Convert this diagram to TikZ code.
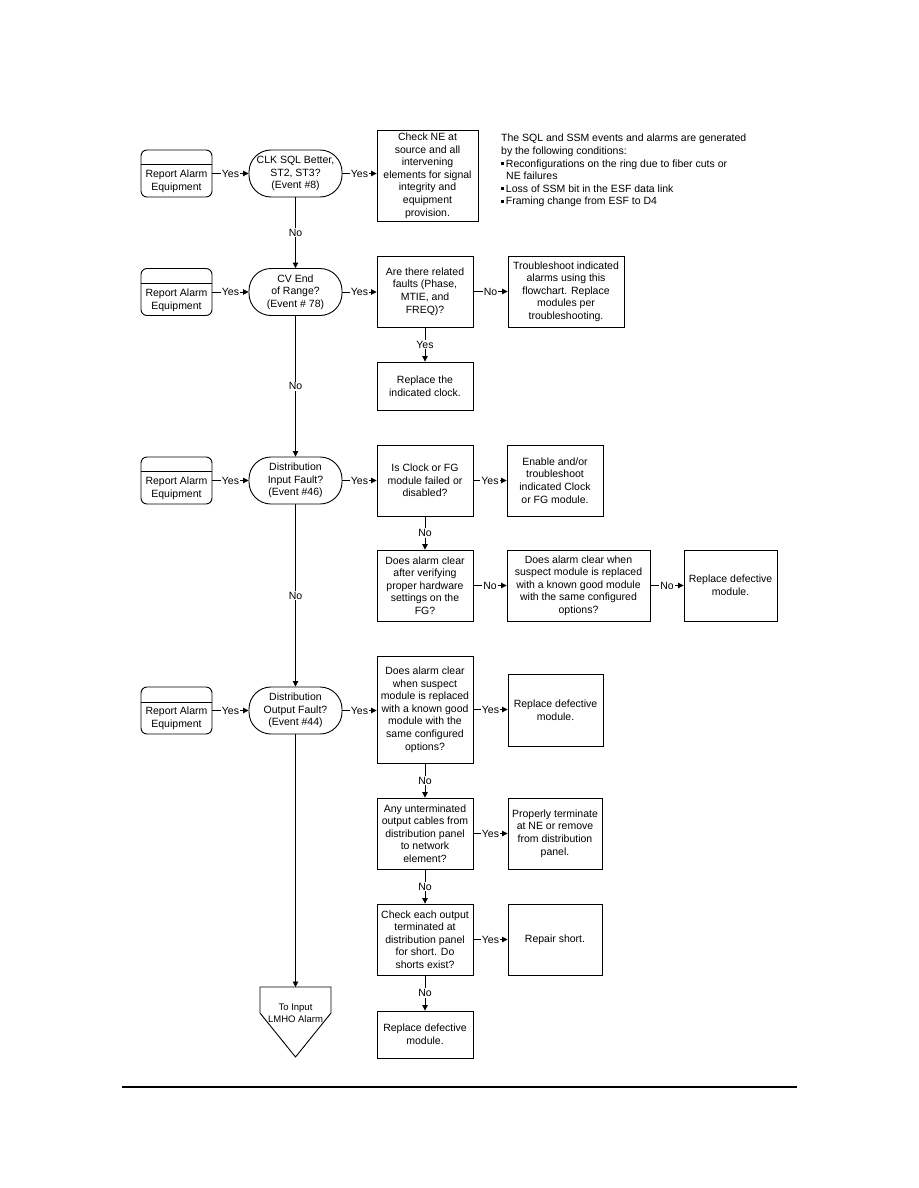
\documentclass[tikz,border=0pt]{standalone}
\usepackage{fontspec}
\setmainfont{Liberation Sans}
\usetikzlibrary{arrows.meta,calc}
\newcommand{\bul}{\raisebox{2pt}{\rule{3pt}{3pt}}\,}
\begin{document}
\begin{tikzpicture}[x=1pt,y=-1pt,
  every node/.style={font=\fontsize{10.5}{12.6}\selectfont, align=center, inner sep=1pt},
  box/.style={draw, line width=0.9pt, inner sep=0pt},
  rep/.style={draw, line width=0.9pt, rounded corners=6pt, minimum width=71pt, minimum height=47pt, inner sep=0pt},
  dec/.style={draw, line width=0.9pt, rounded corners=22pt, minimum width=93pt, minimum height=47pt, inner sep=0pt},
  arr/.style={line width=0.9pt, -{Triangle[length=5.5pt,width=5.5pt]}},
  lbl/.style={fill=white, inner sep=1pt}]
\fill[white] (0,0) rectangle (918,1188);
\useasboundingbox (0,0) rectangle (918,1188);

% ---------- Row 1 ----------
\node[rep] (rep1) at (176.5,173.5) {};
\draw[line width=0.9pt] ($(rep1.north west)+(0,14.5)$) -- ($(rep1.north east)+(0,14.5)$);
\node (rep1t) at ($(rep1.center)+(0,8)$) {Report Alarm\\Equipment};
\node[dec] (d1) at (295.5,173.5) {CLK SQL Better,\\ST2, ST3?\\(Event \#8)};
\node[box, minimum width=101pt, minimum height=91pt] (b1) at (427.5,175.5)
  {Check NE at\\source and all\\intervening\\elements for signal\\integrity and\\equipment\\provision.};
\node[anchor=north west, align=left] (note) at (500,133)
  {The SQL and SSM events and alarms are generated\\
   by the following conditions:\\
   \bul Reconfigurations on the ring due to fiber cuts or\\
   \hspace*{5pt}NE failures\\
   \bul Loss of SSM bit in the ESF data link\\
   \bul Framing change from ESF to D4};

% ---------- Row 2 ----------
\node[rep] (rep2) at (176.5,292) {};
\draw[line width=0.9pt] ($(rep2.north west)+(0,15)$) -- ($(rep2.north east)+(0,15)$);
\node (rep2t) at ($(rep2.center)+(0,8)$) {Report Alarm\\Equipment};
\node[dec] (d2) at (295.5,292) {CV End\\of Range?\\(Event \# 78)};
\node[box, minimum width=96pt, minimum height=71pt] (b2a) at (425,291.5)
  {Are there related\\faults (Phase,\\MTIE, and\\FREQ)?};
\node[box, minimum width=116pt, minimum height=71pt] (b2b) at (566,291.5)
  {Troubleshoot indicated\\alarms using this\\flowchart. Replace\\modules per\\troubleshooting.};
\node[box, minimum width=96pt, minimum height=48pt] (b2c) at (425,386)
  {Replace the\\indicated clock.};

% ---------- Row 3 ----------
\node[rep] (rep3) at (176.5,480.5) {};
\draw[line width=0.9pt] ($(rep3.north west)+(0,14.5)$) -- ($(rep3.north east)+(0,14.5)$);
\node (rep3t) at ($(rep3.center)+(0,8)$) {Report Alarm\\Equipment};
\node[dec] (d3) at (295.5,480.5) {Distribution\\Input Fault?\\(Event \#46)};
\node[box, minimum width=96pt, minimum height=71pt] (b3a) at (425,480.5)
  {Is Clock or FG\\module failed or\\disabled?};
\node[box, minimum width=96pt, minimum height=71pt] (b3b) at (555,480.5)
  {Enable and/or\\troubleshoot\\indicated Clock\\or FG module.};
\node[box, minimum width=96pt, minimum height=71pt] (b3c) at (425,585.5)
  {Does alarm clear\\after verifying\\proper hardware\\settings on the\\FG?};
\node[box, minimum width=143pt, minimum height=71pt] (b3d) at (578.5,585.5)
  {Does alarm clear when\\suspect module is replaced\\with a known good module\\with the same configured\\options?};
\node[box, minimum width=93pt, minimum height=71pt] (b3e) at (730.5,585.5)
  {Replace defective\\module.};

% ---------- Row 4 ----------
\node[rep] (rep4) at (176.5,710.5) {};
\draw[line width=0.9pt] ($(rep4.north west)+(0,15.5)$) -- ($(rep4.north east)+(0,15.5)$);
\node (rep4t) at ($(rep4.center)+(0,8)$) {Report Alarm\\Equipment};
\node[dec] (d4) at (295.5,710.5) {Distribution\\Output Fault?\\(Event \#44)};
\node[box, minimum width=96pt, minimum height=107pt] (b4a) at (425,709.5)
  {Does alarm clear\\when suspect\\module is replaced\\with a known good\\module with the\\same configured\\options?};
\node[box, minimum width=95pt, minimum height=72pt] (b4b) at (555.5,710)
  {Replace defective\\module.};
\node[box, minimum width=96pt, minimum height=71pt] (b4c) at (425,833.5)
  {Any unterminated\\output cables from\\distribution panel\\to network\\element?};
\node[box, minimum width=94pt, minimum height=71pt] (b4d) at (555,833.5)
  {Properly terminate\\at NE or remove\\from distribution\\panel.};
\node[box, minimum width=96pt, minimum height=71pt] (b4e) at (425,939.5)
  {Check each output\\terminated at\\distribution panel\\for short. Do\\shorts exist?};
\node[box, minimum width=94pt, minimum height=71pt] (b4f) at (555,939.5)
  {Repair short.};
\node[box, minimum width=96pt, minimum height=47pt] (b4g) at (425,1034.5)
  {Replace defective\\module.};

% off-page connector
\draw[line width=0.9pt] (260,987) -- (331,987) -- (331,1013) -- (295.5,1057) -- (260,1013) -- cycle;
\coordinate (pent) at (295.5,987);
\node[font=\fontsize{9.5}{12.2}\selectfont] (pentt) at (295.5,1013) {To Input\\LMHO Alarm};

% ---------- connectors ----------
\draw[arr] (rep1.east) -- node[lbl]{Yes} (d1.west);
\draw[arr] (d1.east) -- node[lbl]{Yes} (d1.east -| b1.west);
\draw[arr] (d1.south) -- node[lbl]{No} (d2.north);

\draw[arr] (rep2.east) -- node[lbl]{Yes} (d2.west);
\draw[arr] (d2.east) -- node[lbl]{Yes} (d2.east -| b2a.west);
\draw[arr] (b2a.east) -- node[lbl]{No} (b2b.west);
\draw[arr] (b2a.south) -- node[lbl]{Yes} (b2c.north);
\draw[arr] (d2.south) -- node[lbl]{No} (d3.north);

\draw[arr] (rep3.east) -- node[lbl]{Yes} (d3.west);
\draw[arr] (d3.east) -- node[lbl]{Yes} (b3a.west);
\draw[arr] (b3a.east) -- node[lbl]{Yes} (b3b.west);
\draw[arr] (b3a.south) -- node[lbl]{No} (b3c.north);
\draw[arr] (b3c.east) -- node[lbl]{No} (b3d.west);
\draw[arr] (b3d.east) -- node[lbl]{No} (b3e.west);
\draw[arr] (d3.south) -- node[lbl]{No} (d4.north);

\draw[arr] (rep4.east) -- node[lbl]{Yes} (d4.west);
\draw[arr] (d4.east) -- node[lbl]{Yes} (d4.east -| b4a.west);
\draw[arr] (b4a.east) -- node[lbl]{Yes} (b4a.east -| b4b.west);
\draw[arr] (b4a.south) -- node[lbl]{No} (b4c.north);
\draw[arr] (b4c.east) -- node[lbl]{Yes} (b4d.west);
\draw[arr] (b4c.south) -- node[lbl]{No} (b4e.north);
\draw[arr] (b4e.east) -- node[lbl]{Yes} (b4f.west);
\draw[arr] (b4e.south) -- node[lbl]{No} (b4g.north);
\draw[arr] (d4.south) -- (pent);

% footer rule
\coordinate (fl) at (122,1087);
\coordinate (fr) at (797,1087);
\draw[line width=1.2pt] (fl) -- (fr);
\end{tikzpicture}
\end{document}
